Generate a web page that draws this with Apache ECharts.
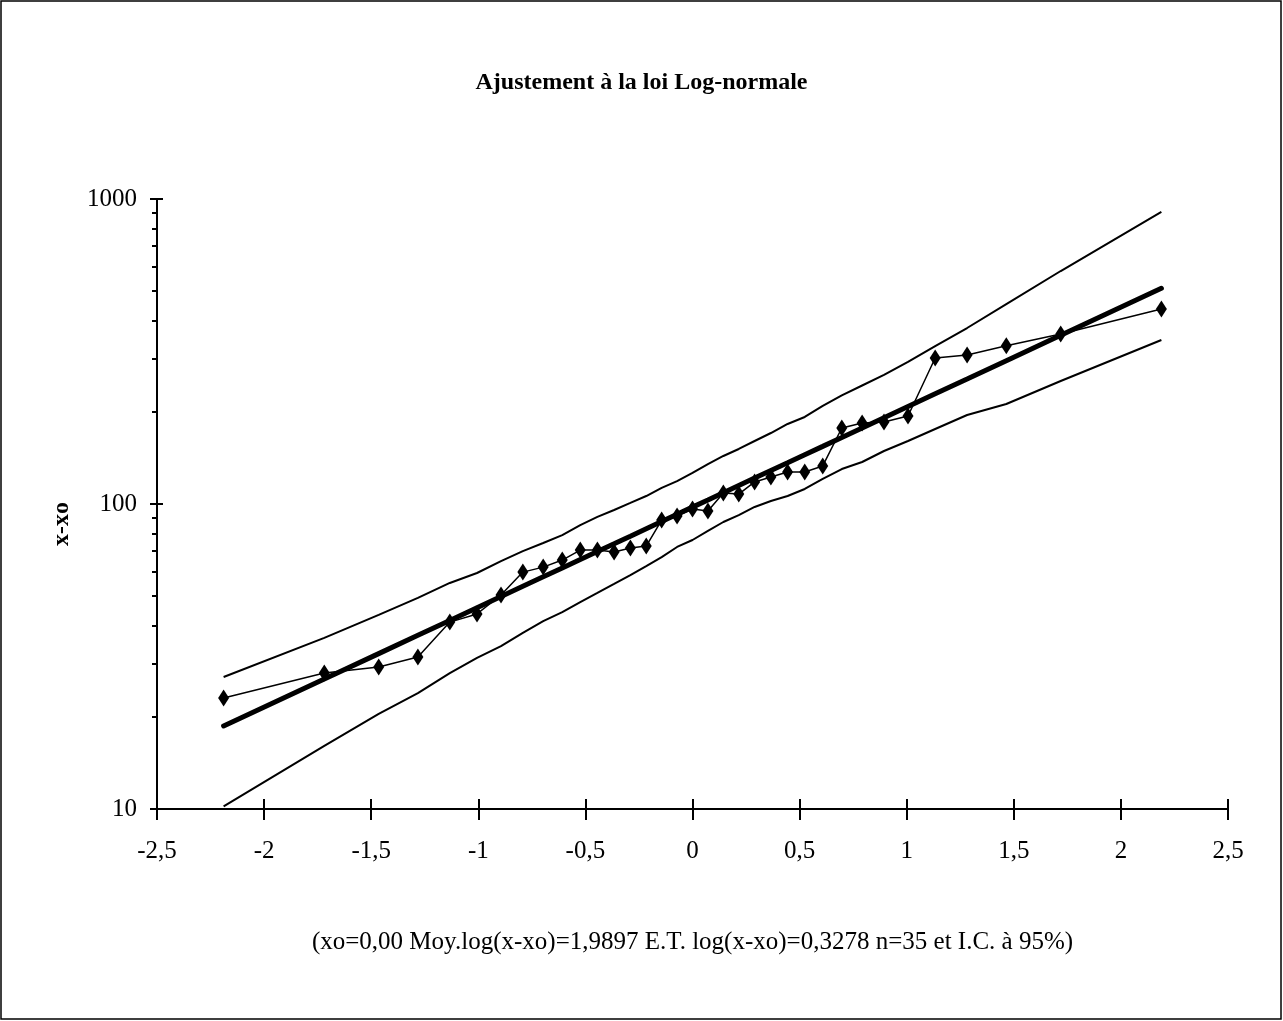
<!DOCTYPE html>
<html>
<head>
<meta charset="utf-8">
<script src="https://cdn.jsdelivr.net/npm/echarts@6/dist/echarts.min.js"></script>
<style>
  html, body { margin: 0; padding: 0; background: #fff; }
  #chart { width: 1283px; height: 1021px; }
</style>
</head>
<body>
<div id="chart"></div>
<script>
// Normal quantiles (x) of the 35 sorted observations
const xQuantiles = [-2.189, -1.719, -1.465, -1.282, -1.133, -1.006, -0.894, -0.792, -0.697, -0.608,
  -0.524, -0.444, -0.366, -0.290, -0.216, -0.144, -0.072, 0, 0.072, 0.144,
  0.216, 0.290, 0.366, 0.444, 0.524, 0.608, 0.697, 0.792, 0.894, 1.006,
  1.133, 1.282, 1.465, 1.719, 2.189];
// Observed values x-xo
const observed = [23.1, 27.9, 29.2, 31.5, 41.0, 43.6, 50.3, 59.8, 62.1, 65.5,
  70.6, 70.6, 69.6, 71.7, 72.8, 88.6, 91.3, 96.3, 94.8, 108.7,
  107.8, 118.1, 122.6, 127.3, 127.3, 133.3, 177.5, 184.4, 185.8, 194.4,
  301, 308, 330, 361, 436];
// Fitted log-normal line
const fitted = [18.71, 26.68, 32.32, 37.11, 41.53, 45.70, 49.73, 53.72, 57.70, 61.71,
  65.74, 69.85, 74.07, 78.44, 82.95, 87.59, 92.49, 97.66, 103.1, 108.9,
  115.0, 121.6, 128.8, 136.5, 145.1, 154.5, 165.3, 177.6, 191.8, 208.7,
  229.7, 257.0, 295.1, 357.5, 509.6];
// 95% confidence interval bounds
const upperCI = [27.1, 36.4, 43.3, 49.2, 55.1, 59.4, 65.0, 70.1, 74.5, 79.1,
  85.3, 90.7, 95.6, 100.8, 106.2, 112.9, 118.9, 126.4, 135.2, 143.7,
  151.5, 160.9, 170.9, 183.0, 192.9, 209.6, 226.9, 244.6, 264.9, 292.2,
  329.6, 377.6, 452.5, 580.6, 906.7];
const lowerCI = [10.2, 16.1, 20.5, 24.0, 27.9, 31.3, 34.2, 37.8, 41.3, 44.2,
  47.7, 51.1, 54.7, 58.5, 62.6, 67.0, 72.3, 76.2, 81.6, 87.3,
  92.0, 97.8, 102.3, 106.2, 112.0, 120.8, 130.2, 137.3, 149.2, 160.9,
  176.2, 195.8, 212.8, 253.1, 344.9];
const yMajorTicks = [10, 100, 1000];
const yMinorTicks = [20, 30, 40, 50, 60, 70, 80, 90, 200, 300, 400, 500, 600, 700, 800, 900];

const titleText = 'Ajustement à la loi Log-normale';
const xName = '(xo=0,00 Moy.log(x-xo)=1,9897 E.T. log(x-xo)=0,3278 n=35 et I.C. à 95%)';
const yName = 'x-xo';

const zip = (xs, ys) => xs.map((x, i) => [x, ys[i]]);
const FONT = '"Liberation Serif", "Times New Roman", serif';

const chart = echarts.init(document.getElementById('chart'), null, { renderer: 'canvas' });

const xBase = {
  type: 'value', gridIndex: 0, position: 'bottom',
  min: -2.5, max: 2.5, interval: 0.5,
  splitLine: { show: false }
};
const yBase = {
  type: 'log', logBase: 10, gridIndex: 0, position: 'left',
  min: 10, max: 1000,
  splitLine: { show: false }
};

chart.setOption({
  animation: false,
  backgroundColor: '#ffffff',
  title: {
    text: titleText, left: 'center', top: 66,
    textStyle: { fontFamily: FONT, fontSize: 24, fontWeight: 'bold', color: '#000' }
  },
  graphic: [
    {
      type: 'rect', silent: true,
      shape: { x: 1, y: 1, width: 1280, height: 1018 },
      style: { fill: 'none', stroke: '#000', lineWidth: 1.5 }
    },
    {
      type: 'text', silent: true,
      x: 62, y: 524, rotation: Math.PI / 2,
      style: {
        text: yName, fontFamily: FONT, fontSize: 24, fontWeight: 'bold',
        fill: '#000', align: 'center', verticalAlign: 'middle'
      }
    }
  ],
  grid: { left: 157, right: 55, top: 199, bottom: 212, containLabel: false },
  xAxis: [
    Object.assign({}, xBase, {
      axisLine: { show: true, onZero: false, lineStyle: { color: '#000', width: 2 } },
      axisTick: { show: true, inside: false, length: 11, lineStyle: { color: '#000', width: 2 } },
      axisLabel: {
        margin: 30, fontFamily: FONT, fontSize: 25, color: '#000',
        formatter: v => String(v).replace('.', ',')
      },
      name: xName, nameLocation: 'middle', nameGap: 121,
      nameTextStyle: { fontFamily: FONT, fontSize: 25, color: '#000' }
    }),
    Object.assign({}, xBase, {
      axisLine: { show: false, onZero: false },
      axisTick: { show: true, inside: true, length: 10, lineStyle: { color: '#000', width: 2 } },
      axisLabel: { show: false }
    })
  ],
  yAxis: [
    Object.assign({}, yBase, {
      axisLine: { show: true, onZero: false, lineStyle: { color: '#000', width: 2 } },
      axisTick: { show: true, inside: false, length: 7, customValues: yMajorTicks, lineStyle: { color: '#000', width: 2 } },
      axisLabel: {
        margin: 20, fontFamily: FONT, fontSize: 25, color: '#000',
        customValues: yMajorTicks, formatter: v => String(Math.round(v))
      }
    }),
    Object.assign({}, yBase, {
      axisLine: { show: false, onZero: false },
      axisTick: { show: true, inside: true, length: 6, customValues: yMajorTicks, lineStyle: { color: '#000', width: 2 } },
      axisLabel: { show: false }
    }),
    Object.assign({}, yBase, {
      axisLine: { show: false, onZero: false },
      axisTick: { show: true, inside: false, length: 5, customValues: yMinorTicks, lineStyle: { color: '#000', width: 2 } },
      axisLabel: { show: false }
    })
  ],
  series: [
    {
      name: 'IC sup', type: 'line', xAxisIndex: 0, yAxisIndex: 0,
      data: zip(xQuantiles, upperCI), showSymbol: false, symbol: 'none',
      lineStyle: { color: '#000', width: 2 }, z: 2
    },
    {
      name: 'IC inf', type: 'line', xAxisIndex: 0, yAxisIndex: 0,
      data: zip(xQuantiles, lowerCI), showSymbol: false, symbol: 'none',
      lineStyle: { color: '#000', width: 2 }, z: 2
    },
    {
      name: 'Ajustement', type: 'line', xAxisIndex: 0, yAxisIndex: 0,
      data: zip(xQuantiles, fitted), showSymbol: false, symbol: 'none',
      lineStyle: { color: '#000', width: 5, cap: 'round' }, z: 3
    },
    {
      name: 'Observations', type: 'line', xAxisIndex: 0, yAxisIndex: 0,
      data: zip(xQuantiles, observed),
      symbol: 'diamond', symbolSize: [11, 17], showSymbol: true,
      itemStyle: { color: '#000', borderWidth: 0 },
      lineStyle: { color: '#000', width: 1.5 }, z: 4
    }
  ]
});
</script>
</body>
</html>
